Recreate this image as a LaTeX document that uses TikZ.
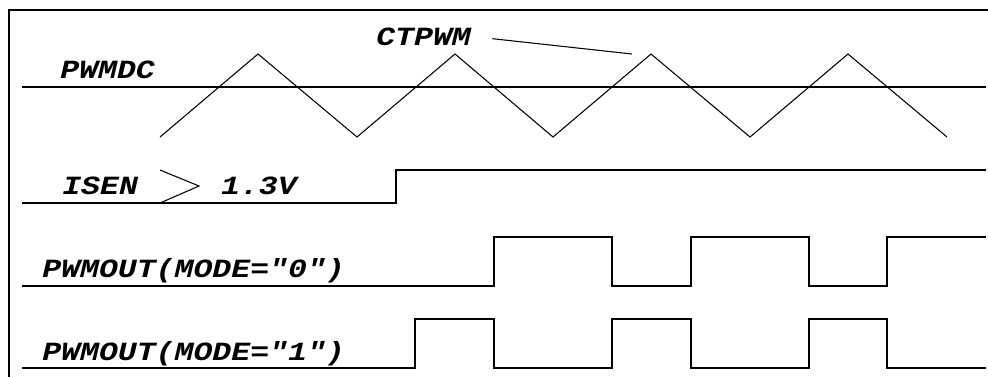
\documentclass[tikz,border=0pt]{standalone}
\usepackage{fontspec}
\newfontfamily\sigfont[FakeStretch=1.2]{Liberation Mono}
\usepackage{tikz}
\usetikzlibrary{positioning}
\tikzset{
    sig/.style={
        font=\sigfont\bfseries\itshape\fontsize{19.7pt}{20pt}\selectfont,
        inner sep=0pt,
        anchor=base west
    },
    frame/.style={
        line width=1.6pt
    },
    wave/.style={
        line width=0.8pt,
        line join=miter
    },
    lead/.style={
        line width=0.8pt
    }
}

\begin{document}
\begin{tikzpicture}[x=0.75pt, y=-0.75pt]
  \useasboundingbox (0,0) rectangle (988,376);
  \draw[frame] (9,380) -- (9,10) -- (992,10);

  % Labels
  \node[sig] (pwmdc) at (60,78) {PWMDC};
  \node[sig] (ctpwm) at (376,45) {CTPWM};
  \node[sig] (isen) at (62,194) {ISEN};
  \node[sig, base right=62pt of isen] (volt) {1.3V};
  \node[sig] (mode0) at (42,277) {PWMOUT(MODE="0")};
  \node[sig] (mode1) at (42,360) {PWMOUT(MODE="1")};

  % Duty level and carrier
  \draw[wave] (22,87) -- (986,87);
  \draw[wave] (160,137) -- (258,54) -- (357,137) -- (455,54) -- (553,137)
    -- (651,54) -- (750,137) -- (848,54) -- (947,137);
  \coordinate (ctpeak) at (632,54);
  \draw[lead, shorten <=16pt] (ctpwm.east) -- (ctpeak);

  % Sense input
  \draw[wave] (22,203) -- (396,203) -- (396,170) -- (986,170);
  \draw[wave] (160,170) -- (199,186) -- (160,203);

  % Outputs
  \draw[wave] (22,286) -- (494,286) -- (494,237) -- (612,237) -- (612,286)
    -- (691,286) -- (691,237) -- (809,237) -- (809,286) -- (887,286)
    -- (887,237) -- (986,237);
  \draw[wave] (22,368) -- (415,368) -- (415,319) -- (494,319) -- (494,368)
    -- (612,368) -- (612,319) -- (691,319) -- (691,368) -- (809,368)
    -- (809,319) -- (887,319) -- (887,368) -- (986,368);
\end{tikzpicture}
\end{document}
